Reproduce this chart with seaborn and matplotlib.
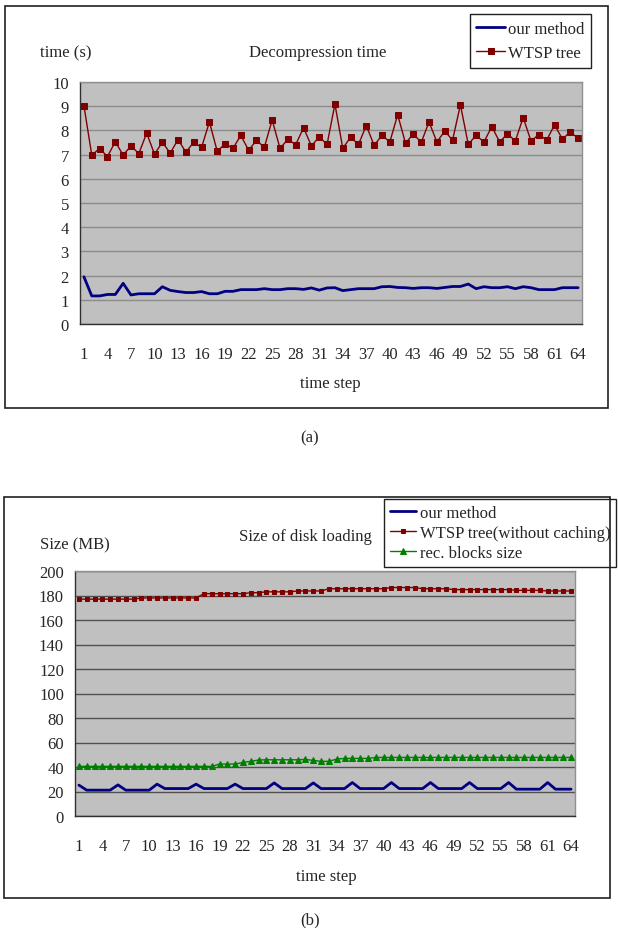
import matplotlib
matplotlib.use("Agg")
import matplotlib.pyplot as plt
import seaborn as sns
import numpy as np
from matplotlib.patches import Rectangle
from matplotlib.ticker import FixedLocator

# ---- data -------------------------------------------------------------
steps = list(range(1, 65))
tick_labels = [1, 4, 7, 10, 13, 16, 19, 22, 25, 28, 31, 34, 37, 40, 43, 46,
               49, 52, 55, 58, 61, 64]

# (a) decompression time, seconds
decomp_ours = [1.95, 1.16, 1.16, 1.22, 1.22, 1.68, 1.20, 1.25, 1.25, 1.25,
               1.54, 1.39, 1.34, 1.30, 1.30, 1.34, 1.25, 1.25, 1.35, 1.35,
               1.42, 1.42, 1.42, 1.46, 1.42, 1.42, 1.46, 1.46, 1.43, 1.49,
               1.40, 1.49, 1.50, 1.38, 1.42, 1.46, 1.46, 1.46, 1.54, 1.55,
               1.51, 1.50, 1.47, 1.50, 1.50, 1.47, 1.51, 1.55, 1.55, 1.65,
               1.46, 1.54, 1.50, 1.50, 1.54, 1.46, 1.54, 1.50, 1.42, 1.42,
               1.42, 1.50, 1.50, 1.50]
decomp_wtsp = [9.02, 6.98, 7.25, 6.92, 7.53, 6.98, 7.36, 7.04, 7.89, 7.02,
               7.51, 7.06, 7.62, 7.10, 7.51, 7.30, 8.35, 7.13, 7.45, 7.26,
               7.79, 7.18, 7.59, 7.30, 8.43, 7.26, 7.63, 7.41, 8.11, 7.36,
               7.73, 7.42, 9.09, 7.26, 7.72, 7.42, 8.20, 7.38, 7.80, 7.52,
               8.65, 7.47, 7.86, 7.50, 8.35, 7.52, 7.97, 7.60, 9.06, 7.42,
               7.80, 7.52, 8.16, 7.52, 7.86, 7.56, 8.53, 7.56, 7.83, 7.60,
               8.23, 7.64, 7.93, 7.68]

# (b) size of disk loading, MB
disk_ours = [25.2, 21.1, 21.1, 21.1, 21.1, 25.4, 21.1, 21.1, 21.1, 21.1,
             26.0, 22.4, 22.4, 22.4, 22.4, 26.0, 22.4, 22.4, 22.4, 22.4,
             26.0, 22.4, 22.4, 22.4, 22.4, 27.0, 22.4, 22.4, 22.4, 22.4,
             27.0, 22.4, 22.4, 22.4, 22.4, 27.3, 22.4, 22.4, 22.4, 22.4,
             27.3, 22.4, 22.4, 22.4, 22.4, 27.3, 22.4, 22.4, 22.4, 22.4,
             27.3, 22.4, 22.4, 22.4, 22.4, 27.3, 21.9, 21.9, 21.9, 21.9,
             27.3, 21.9, 21.9, 21.9]
disk_wtsp = [177.0, 177.0, 177.0, 177.0, 177.0, 177.0, 177.0, 177.0, 178.0, 178.0,
             178.0, 178.0, 178.0, 178.0, 178.0, 178.0, 181.5, 181.5, 181.5, 181.5,
             181.5, 181.5, 182.3, 182.3, 183.0, 183.0, 183.0, 183.0, 183.7, 183.7,
             183.7, 183.7, 185.5, 185.5, 185.5, 185.5, 185.5, 185.5, 185.5, 185.5,
             186.5, 186.5, 186.5, 186.5, 185.5, 185.5, 185.5, 185.5, 184.8, 184.8,
             184.8, 184.8, 184.8, 184.8, 184.8, 184.8, 184.2, 184.2, 184.2, 184.2,
             183.7, 183.7, 183.7, 183.7]
disk_blocks = [40.5, 40.5, 40.5, 40.5, 40.5, 40.5, 40.5, 40.5, 40.5, 40.5,
               40.5, 40.5, 40.5, 40.5, 40.5, 40.5, 40.5, 40.5, 42.4, 42.4,
               42.4, 43.7, 44.6, 45.7, 45.9, 45.9, 45.9, 45.9, 45.9, 46.2,
               45.4, 44.6, 44.6, 46.5, 47.0, 47.0, 47.0, 47.0, 47.8, 47.8,
               47.8, 47.8, 47.8, 47.8, 47.8, 47.8, 47.8, 47.8, 47.8, 47.8,
               47.8, 47.8, 47.8, 47.8, 47.8, 47.8, 47.8, 47.8, 47.8, 47.8,
               47.8, 47.8, 47.8, 47.8]

# ---- style ------------------------------------------------------------
sns.set_style("white")
plt.rcParams['font.family'] = ['Liberation Serif', 'DejaVu Serif']

W, H = 618, 929
fig = plt.figure(figsize=(W / 100, H / 100), dpi=100)


def fx(px):
    return px / W


def fy(py):
    return 1 - py / H


def setup_axes(ax, ymax, ystep, grid_color):
    ax.set_facecolor('#C0C0C0')
    ax.set_xlim(0.5, 64.5)
    ax.set_ylim(0, ymax)
    ax.set_yticks(np.arange(0, ymax + ystep / 2, ystep))
    ax.set_xticks(tick_labels)
    ax.set_xticklabels([str(t) for t in tick_labels])
    ax.xaxis.set_minor_locator(FixedLocator(np.arange(0.5, 65, 1)))
    ax.tick_params(axis='x', which='major', length=0, pad=16, labelsize=12)
    ax.tick_params(axis='x', which='minor', direction='in', length=4,
                   width=0.8, color='#303030')
    ax.tick_params(axis='y', length=3, width=0.8, color='#303030',
                   pad=5, labelsize=12)
    ax.grid(axis='y', color=grid_color, linewidth=1)
    ax.set_axisbelow(True)
    for side in ['left', 'bottom']:
        ax.spines[side].set_color('#303030')
        ax.spines[side].set_linewidth(1)
    for side in ['top', 'right']:
        ax.spines[side].set_color('#909090')
        ax.spines[side].set_linewidth(1)
    ax.set_xlabel('')
    ax.set_ylabel('')


# ---- panel (a) --------------------------------------------------------
fig.patches.append(Rectangle((fx(5), fy(409)), fx(603), 402 / H,
                             transform=fig.transFigure, fill=False,
                             edgecolor='#202020', linewidth=1.2))
ax1 = fig.add_axes([fx(80), fy(325), fx(502), 242 / H])
sns.lineplot(x=steps, y=decomp_ours, ax=ax1, color='#000080', linewidth=2,
             label='our method')
sns.lineplot(x=steps, y=decomp_wtsp, ax=ax1, color='#800000', linewidth=1,
             marker='s', markersize=5, markeredgecolor='#800000',
             label='WTSP tree')
setup_axes(ax1, 10, 1, '#8c8c8c')
ax1.legend(loc='upper right', bbox_to_anchor=(fx(591), fy(15)),
           bbox_transform=fig.transFigure, frameon=True, fancybox=False,
           edgecolor='#202020', framealpha=1, fontsize=12, borderpad=0.4,
           labelspacing=0.5, handlelength=1.75, handletextpad=0.15,
           borderaxespad=0)

fig.text(fx(40), fy(53), 'time (s)', fontsize=12, ha='left', va='center')
fig.text(fx(318), fy(53), 'Decompression time', fontsize=12, ha='center',
         va='center')
fig.text(fx(330), fy(384), 'time step', fontsize=12, ha='center', va='center')
fig.text(fx(310), fy(438), '(a)', fontsize=12, ha='center', va='center')

# ---- panel (b) --------------------------------------------------------
fig.patches.append(Rectangle((fx(4), fy(899)), fx(606), 401 / H,
                             transform=fig.transFigure, fill=False,
                             edgecolor='#202020', linewidth=1.2))
ax2 = fig.add_axes([fx(75), fy(817), fx(500), 245 / H])
sns.lineplot(x=steps, y=disk_ours, ax=ax2, color='#000080', linewidth=2,
             label='our method')
sns.lineplot(x=steps, y=disk_wtsp, ax=ax2, color='#800000', linewidth=1,
             marker='s', markersize=3.5, markeredgecolor='#800000',
             label='WTSP tree(without caching)')
sns.lineplot(x=steps, y=disk_blocks, ax=ax2, color='#008000', linewidth=1,
             marker='^', markersize=4.5, markeredgecolor='#008000',
             label='rec. blocks size')
setup_axes(ax2, 200, 20, '#505050')
ax2.legend(loc='upper right', bbox_to_anchor=(fx(616), fy(500)),
           bbox_transform=fig.transFigure, frameon=True, fancybox=False,
           edgecolor='#202020', framealpha=1, fontsize=12, borderpad=0.35,
           labelspacing=0.25, handlelength=1.6, handletextpad=0.2,
           borderaxespad=0)

fig.text(fx(40), fy(545), 'Size (MB)', fontsize=12, ha='left', va='center')
fig.text(fx(305), fy(537), 'Size of disk loading', fontsize=12, ha='center',
         va='center')
fig.text(fx(326), fy(877), 'time step', fontsize=12, ha='center', va='center')
fig.text(fx(310), fy(920), '(b)', fontsize=12, ha='center', va='center')

fig.savefig('out.png', dpi=100)
